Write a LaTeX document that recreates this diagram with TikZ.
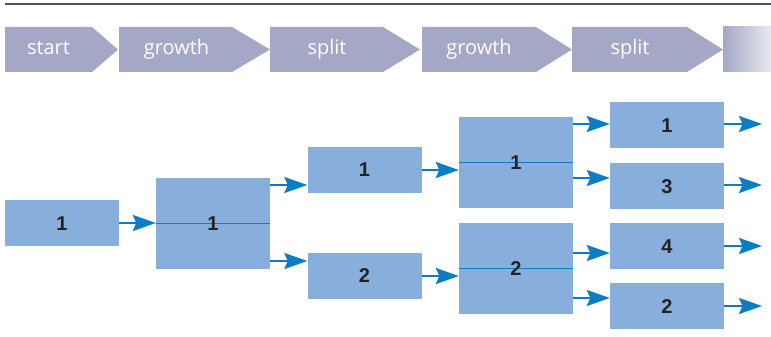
\documentclass[tikz,border=0pt]{standalone}
\usepackage{fontspec}
\setmainfont{Liberation Sans}
\newfontfamily\headfont{Open Sans}
\usetikzlibrary{arrows.meta}
\definecolor{headcol}{HTML}{A4A8C6}
\definecolor{boxcol}{HTML}{88AEDC}
\definecolor{arrcol}{HTML}{0A7DC4}
\definecolor{rulecol}{HTML}{555555}
\definecolor{numcol}{HTML}{222222}
\begin{document}
\begin{tikzpicture}[x=1pt,y=-1pt,
  box/.style={fill=boxcol, draw=none, minimum width=114pt, minimum height=46pt, inner sep=0pt, anchor=center},
  bigbox/.style={box, minimum height=91pt},
  num/.style={font=\fontsize{20}{20}\selectfont\bfseries, text=numcol, anchor=base, inner sep=0pt},
  flow/.style={draw=arrcol, line width=2.3pt, -{Stealth[length=23pt,width=16pt,inset=3.5pt]}},
  mid/.style={draw=arrcol, line width=1pt},
  headtxt/.style={font=\headfont\fontsize{20}{20}\selectfont, text=white, anchor=base, inner sep=0pt},
  headarrow/.style={fill=headcol},
]
\useasboundingbox (0,0) rectangle (771,337);
% top rule
\draw[rulecol, line width=1.5pt] (5,4) -- (771,4);
% header chevrons
\path[headarrow] (5,27) -- (92,27) -- (118,49.5) -- (92,72) -- (5,72) -- cycle;
\path[headarrow] (119,27) -- (232,27) -- (270,49.5) -- (232,72) -- (119,72) -- cycle;
\path[headarrow] (270,27) -- (383,27) -- (420,49.5) -- (383,72) -- (270,72) -- cycle;
\path[headarrow] (422,27) -- (536,27) -- (572,49.5) -- (536,72) -- (422,72) -- cycle;
\path[headarrow] (572,27) -- (687,27) -- (723,49.5) -- (687,72) -- (572,72) -- cycle;
\shade[left color=headcol, right color=headcol!25!white] (723,27) rectangle (771,72);
\node[headtxt] (h1) at (48.5,55) {start};
\node[headtxt] (h2) at (176.5,55) {growth};
\node[headtxt] (h3) at (327,55) {split};
\node[headtxt] (h4) at (479,55) {growth};
\node[headtxt] (h5) at (630,55) {split};
% boxes
\node[box] (A) at (62,223) {};
\node[bigbox] (B) at (213,223.5) {};
\node[box] (C) at (364.5,169.5) {};
\node[box] (D) at (364.5,275.5) {};
\node[bigbox] (E) at (516,162) {};
\node[bigbox] (H) at (516,268) {};
\node[box] (F) at (667,125) {};
\node[box] (G) at (667,186) {};
\node[box] (I) at (667,246) {};
\node[box] (J) at (667,306) {};
% middle lines in big boxes
\draw[mid] (B.west |- 0,223) -- (B.east |- 0,223);
\draw[mid] (E.west |- 0,162) -- (E.east |- 0,162);
\draw[mid] (H.west |- 0,268) -- (H.east |- 0,268);
% labels
\node[num] (tA) at ([yshift=-7pt]A.center) {1};
\node[num] (tB) at ([yshift=-7pt]B.center) {1};
\node[num] (tC) at ([yshift=-7pt]C.center) {1};
\node[num] (tD) at ([yshift=-7pt]D.center) {2};
\node[num] (tE) at ([yshift=-7pt]E.center) {1};
\node[num] (tH) at ([yshift=-7pt]H.center) {2};
\node[num] (tF) at ([yshift=-7pt]F.center) {1};
\node[num] (tG) at ([yshift=-7pt]G.center) {3};
\node[num] (tI) at ([yshift=-7pt]I.center) {4};
\node[num] (tJ) at ([yshift=-7pt]J.center) {2};
% free ends
\coordinate (oF) at (762,124);
\coordinate (oG) at (762,185);
\coordinate (oI) at (762,246);
\coordinate (oJ) at (762,306);
% connectors
\draw[flow] (A.east |- 0,223) -- (B.west |- 0,223);
\draw[flow] (B.east |- 0,185) -- (C.west |- 0,185);
\draw[flow] (B.east |- 0,261) -- (D.west |- 0,261);
\draw[flow] (C.east |- 0,170) -- (E.west |- 0,170);
\draw[flow] (D.east |- 0,276) -- (H.west |- 0,276);
\draw[flow] (E.east |- 0,124) -- (F.west |- 0,124);
\draw[flow] (E.east |- 0,178) -- (G.west |- 0,178);
\draw[flow] (H.east |- 0,253) -- (I.west |- 0,253);
\draw[flow] (H.east |- 0,298) -- (J.west |- 0,298);
\draw[flow] (F.east |- oF) -- (oF);
\draw[flow] (G.east |- oG) -- (oG);
\draw[flow] (I.east |- oI) -- (oI);
\draw[flow] (J.east |- oJ) -- (oJ);
\end{tikzpicture}
\end{document}
